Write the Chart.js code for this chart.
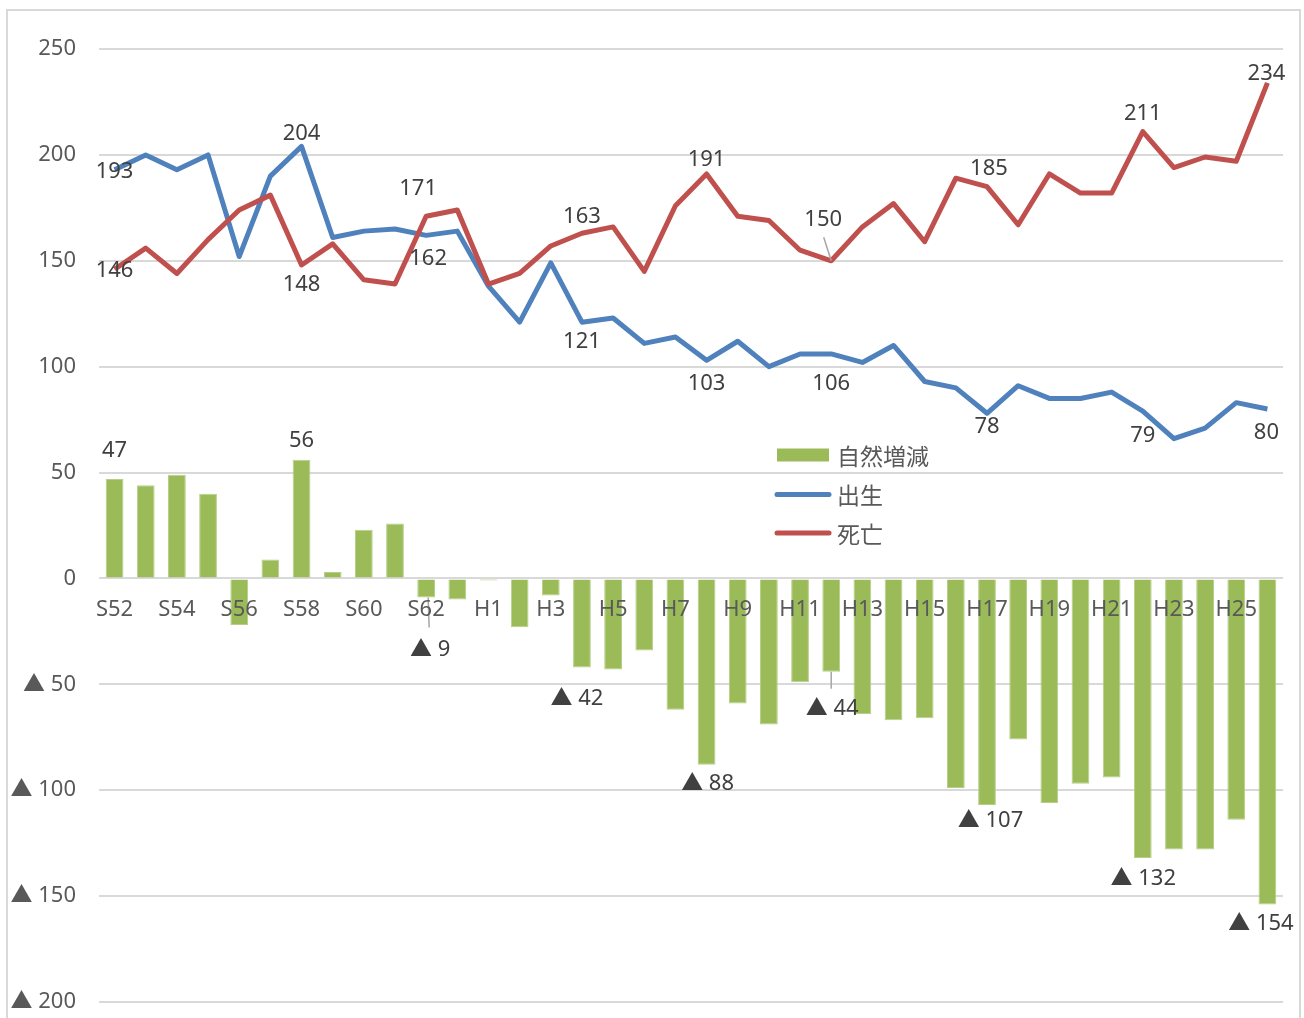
<!DOCTYPE html>
<html><head><meta charset="utf-8">
<script src="https://cdn.jsdelivr.net/npm/chart.js@4.4.1/dist/chart.umd.min.js"></script>
<style>html,body{margin:0;padding:0;background:#fff;}#wrap{position:relative;width:1304px;height:1018px;}</style>
</head><body><div id="wrap"><canvas id="c" width="1304" height="1018"></canvas></div>
<script>
// ---- data ----
const categories = ['S52','S53','S54','S55','S56','S57','S58','S59','S60','S61','S62','S63',
  'H1','H2','H3','H4','H5','H6','H7','H8','H9','H10','H11','H12','H13','H14','H15','H16','H17','H18','H19','H20','H21','H22','H23','H24','H25','H26'];
const births = [193,200,193,200,152,190,204,161,164,165,162,164,138,121,149,121,123,111,114,103,112,100,106,106,102,110,93,90,78,91,85,85,88,79,66,71,83,80];
const deaths = [146,156,144,160,174,181,148,158,141,139,171,174,139,144,157,163,166,145,176,191,171,169,155,150,166,177,159,189,185,167,191,182,182,211,194,199,197,234];
const naturalChange = [47,44,49,40,-22,9,56,3,23,26,-9,-10,-1,-23,-8,-42,-43,-34,-62,-88,-59,-69,-49,-44,-64,-67,-66,-99,-107,-76,-106,-97,-94,-132,-128,-128,-114,-154];
const labeledIndices = [0,6,10,15,19,23,28,33,37];
const seriesNames = ['自然増減','出生','死亡'];
const yMin = -200, yMax = 250, yStep = 50;

// ---- styles ----
const GREEN = '#9BBB59', BLUE = '#4F81BD', RED = '#C0504D';
const FONT = "'Noto Sans', 'Noto Sans CJK JP', sans-serif";
const CJK = "'Noto Sans CJK JP', 'Noto Sans', sans-serif";
// label offsets (px) relative to the element position, per dataset, in labeledIndices order
const labelOffsets = {
  0: [[0,-28],[0,-19],[4,52],[-5,31.5],[1,19],[1,37],[3.5,15.5],[0.5,20.5],[-6.5,19.5]],
  1: [[0,2],[0,-13],[2,23],[0,20],[0,23],[0,30],[0,13],[0,25],[-1,24]],
  2: [[0,1],[0,20],[-8,-28],[0,-17],[0,-14],[-8,-41],[2,-18],[0,-18],[-1,-9]]
};
// leader lines: [datasetIndex, position in labeledIndices, [x1,y1,x2,y2] relative to element]
const leaders = [[2,5,[-7.5,-23.5,0,0]],[0,2,[2,0,3,30]],[0,5,[0,0,0,17]]];

const fmt = v => v < 0 ? '▲ ' + Math.abs(v) : String(v);

const decorPlugin = {
  id: 'decor',
  beforeDraw(chart) {
    const ctx = chart.ctx;
    ctx.save();
    ctx.fillStyle = '#fff';
    ctx.fillRect(0, 0, chart.width, chart.height);
    ctx.strokeStyle = '#d9d9d9';
    ctx.lineWidth = 2;
    ctx.strokeRect(7, 10, 1293, 1100);
    ctx.restore();
  },
  afterDatasetsDraw(chart) {
    const ctx = chart.ctx;
    ctx.save();
    // leaders
    ctx.strokeStyle = '#a6a6a6';
    ctx.lineWidth = 1.5;
    leaders.forEach(([ds, k, r]) => {
      const el = chart.getDatasetMeta(ds).data[labeledIndices[k]];
      ctx.beginPath();
      ctx.moveTo(el.x + r[0], el.y + r[1]);
      ctx.lineTo(el.x + r[2], el.y + r[3]);
      ctx.stroke();
    });
    // labels
    ctx.font = '22px ' + FONT;
    ctx.fillStyle = '#404040';
    ctx.textAlign = 'center';
    ctx.textBaseline = 'middle';
    chart.data.datasets.forEach((dset, ds) => {
      const meta = chart.getDatasetMeta(ds);
      labeledIndices.forEach((idx, k) => {
        const el = meta.data[idx];
        const off = labelOffsets[ds][k];
        ctx.fillText(fmt(dset.data[idx]), el.x + off[0], el.y + off[1]);
      });
    });
    // legend
    const lx = 777, lw = 52, tx = 837;
    const rows = [455, 494.5, 533];
    ctx.textAlign = 'left';
    ctx.font = '23px ' + CJK;
    chart.data.datasets.forEach((dset, ds) => {
      const y = rows[ds];
      if (dset.type === 'bar') {
        ctx.fillStyle = dset.backgroundColor;
        ctx.fillRect(lx, y - 6.5, lw, 13);
      } else {
        ctx.strokeStyle = dset.borderColor;
        ctx.lineWidth = 5;
        ctx.lineCap = 'round';
        ctx.beginPath();
        ctx.moveTo(lx, y);
        ctx.lineTo(lx + lw, y);
        ctx.stroke();
      }
      ctx.fillStyle = '#595959';
      ctx.fillText(dset.label, tx, y + 1);
    });
    ctx.restore();
  }
};

new Chart(document.getElementById('c'), {
  data: {
    labels: categories,
    datasets: [
      { type: 'bar', label: seriesNames[0], data: naturalChange, backgroundColor: GREEN,
        borderColor: '#b5cf86', borderWidth: 1, barPercentage: 0.57, categoryPercentage: 1.0, order: 3 },
      { type: 'line', label: seriesNames[1], data: births, borderColor: BLUE, borderWidth: 5,
        pointRadius: 0, tension: 0, borderJoinStyle: 'round', fill: false, order: 2 },
      { type: 'line', label: seriesNames[2], data: deaths, borderColor: RED, borderWidth: 5,
        pointRadius: 0, tension: 0, borderJoinStyle: 'round', fill: false, order: 1 }
    ]
  },
  options: {
    responsive: false,
    animation: false,
    devicePixelRatio: 1,
    layout: { padding: { top: 49, bottom: 16, left: 0, right: 21 } },
    plugins: { legend: { display: false }, tooltip: { enabled: false } },
    scales: {
      x: {
        type: 'category',
        position: { y: 0 },
        offset: true,
        grid: { display: false, drawTicks: false },
        border: { display: false },
        ticks: {
          z: 1,
          autoSkip: false, maxRotation: 0, padding: 18, color: '#595959',
          font: { size: 22, family: FONT },
          callback: (v, i) => (i % 2 === 0 ? categories[i] : '')
        },
        afterFit: s => { s.height = 0; s.paddingLeft = 0; s.paddingRight = 0; }
      },
      y: {
        min: yMin, max: yMax,
        grid: { color: '#d9d9d9', lineWidth: 2, drawTicks: false },
        border: { display: false },
        ticks: { stepSize: yStep, padding: 23, color: '#595959', font: { size: 22, family: FONT },
          callback: v => fmt(v) },
        afterFit: s => { s.width = 99; s.paddingTop = 0; s.paddingBottom = 0; }
      }
    }
  },
  plugins: [decorPlugin]
});
</script></body></html>
